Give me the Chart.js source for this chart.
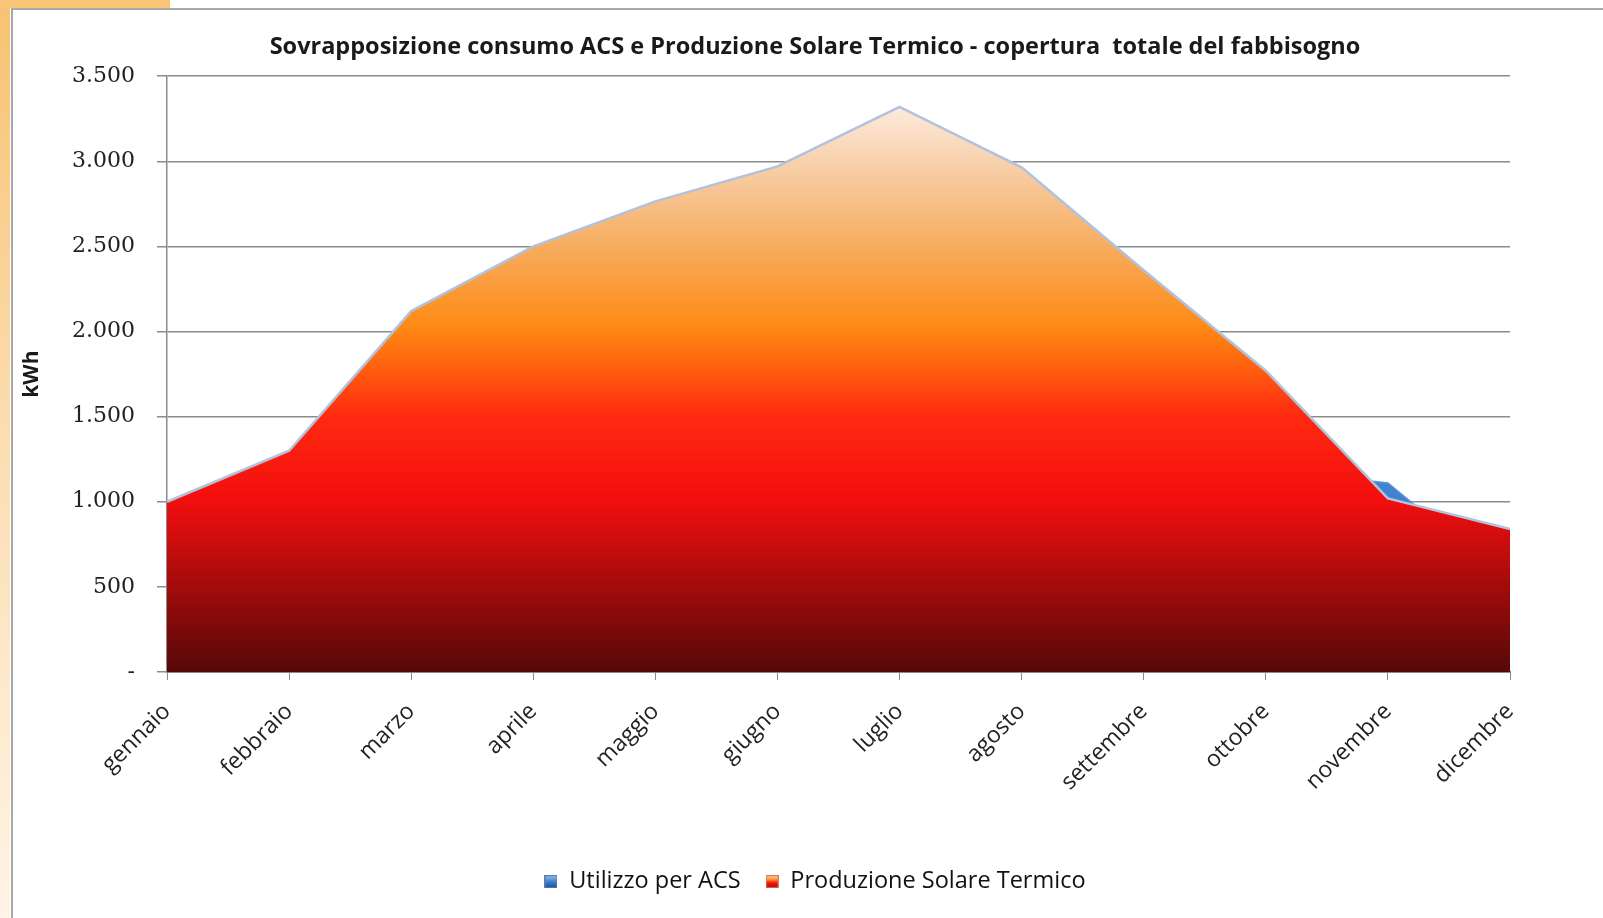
<!DOCTYPE html>
<html>
<head>
<meta charset="utf-8">
<script src="https://cdn.jsdelivr.net/npm/chart.js@4.4.1/dist/chart.umd.min.js"></script>
<style>
  html, body { margin: 0; padding: 0; background: #fff; }
  #wrap { position: relative; width: 1603px; height: 918px; overflow: hidden; }
  #strip { position: absolute; left: 0; top: 0; width: 10px; height: 918px;
    background: linear-gradient(#f8c271, #fbdcae 45%, #fff4e6); }
  #corner { position: absolute; left: 0; top: 0; width: 170px; height: 8px; background: #f9c576; }
  #box { position: absolute; left: 11px; top: 8px; width: 1600px; height: 920px;
    border-top: 2px solid #a8a8a8; border-left: 2px solid #a8a8a8; background: #fff; }
  #myChart { position: absolute; left: 0; top: 0; }
</style>
</head>
<body>
<div id="wrap">
  <div id="strip"></div>
  <div id="corner"></div>
  <div id="box"></div>
  <canvas id="myChart" width="1603" height="918"></canvas>
</div>
<script>
const months = ['gennaio', 'febbraio', 'marzo', 'aprile', 'maggio', 'giugno',
  'luglio', 'agosto', 'settembre', 'ottobre', 'novembre', 'dicembre'];
// ACS is hidden behind the solar area except around novembre
const acsValues = [950, 1000, 1050, 1050, 1100, 1100, 1150, 1150, 1150, 1190, 1110, 520];
const solarValues = [1000, 1300, 2120, 2500, 2765, 2970, 3320, 2965, 2360, 1770, 1020, 840];
const yTicks = [0, 500, 1000, 1500, 2000, 2500, 3000, 3500];

const sansFont = '"Open Sans", Lato, sans-serif';

function solarGradient(context) {
  const area = context.chart.chartArea;
  if (!area) return '#ff2010';
  const g = context.chart.ctx.createLinearGradient(0, area.bottom, 0, area.top);
  g.addColorStop(0, '#560808');
  g.addColorStop(0.14, '#a00b0b');
  g.addColorStop(0.29, '#f40e0e');
  g.addColorStop(0.43, '#ff2a10');
  g.addColorStop(0.52, '#ff6610');
  g.addColorStop(0.58, '#ff8a14');
  g.addColorStop(0.72, '#f6ae62');
  g.addColorStop(0.86, '#f8d2ae');
  g.addColorStop(0.95, '#fcebdc');
  g.addColorStop(1, '#fff8f2');
  return g;
}

function acsGradient(context) {
  const area = context.chart.chartArea;
  if (!area) return '#4a88d6';
  const g = context.chart.ctx.createLinearGradient(0, area.bottom, 0, area.top);
  g.addColorStop(0, '#1d4f9a');
  g.addColorStop(0.3, '#3f82d2');
  g.addColorStop(0.6, '#7fb0e8');
  g.addColorStop(1, '#c9def5');
  return g;
}

// small icons for the legend
function legendIcon(stops, edge) {
  const c = document.createElement('canvas');
  c.width = 13; c.height = 13;
  const x = c.getContext('2d');
  const g = x.createLinearGradient(0, 0, 0, 13);
  stops.forEach(function(s) { g.addColorStop(s[0], s[1]); });
  x.fillStyle = g;
  x.fillRect(0, 0, 13, 13);
  x.strokeStyle = edge;
  x.lineWidth = 1;
  x.strokeRect(0.5, 0.5, 12, 12);
  return c;
}

const acsIcon = legendIcon([[0, '#9cc4ee'], [0.5, '#3f7fcc'], [1, '#1f4e92']], '#5b7fb0');
const solarIcon = legendIcon([[0, '#fbe0c0'], [0.35, '#ff8a20'], [0.6, '#f41010'], [1, '#b01010']], '#d08060');

const ctx = document.getElementById('myChart').getContext('2d');

new Chart(ctx, {
  type: 'line',
  data: {
    labels: months,
    datasets: [{
      label: 'Utilizzo per ACS',
      data: acsValues,
      fill: 'origin',
      backgroundColor: acsGradient,
      borderColor: '#5d8fd0',
      borderWidth: 1.5,
      pointRadius: 0,
      pointStyle: acsIcon,
      tension: 0,
      order: 1
    }, {
      label: 'Produzione Solare Termico',
      data: solarValues,
      fill: 'origin',
      backgroundColor: solarGradient,
      borderColor: '#b2c2de',
      borderWidth: 2.5,
      pointRadius: 0,
      pointStyle: solarIcon,
      tension: 0,
      order: 0
    }]
  },
  options: {
    responsive: false,
    animation: false,
    layout: { padding: { left: 27, right: 0, top: 0, bottom: 14.5 } },
    plugins: {
      tooltip: { enabled: false },
      title: {
        display: true,
        text: 'Sovrapposizione consumo ACS e Produzione Solare Termico - copertura  totale del fabbisogno',
        color: '#1a1a1a',
        font: { family: sansFont, size: 23.5, weight: 'bold', lineHeight: 1.2 },
        padding: { top: 33, bottom: 15 }
      },
      legend: {
        position: 'bottom',
        labels: {
          usePointStyle: true,
          boxWidth: 13,
          boxHeight: 13,
          padding: 25,
          color: '#111',
          font: { family: sansFont, size: 23.5 },
          sort: function(a, b) { return a.datasetIndex - b.datasetIndex; }
        }
      }
    },
    scales: {
      x: {
        grid: { drawOnChartArea: false, drawTicks: true, tickLength: 8, color: '#8a8a8a' },
        border: { color: '#8a8a8a', width: 2 },
        ticks: {
          autoSkip: false,
          minRotation: 45,
          maxRotation: 45,
          padding: 18,
          color: '#222',
          font: { family: sansFont, size: 23 }
        },
        afterFit: function(scale) { scale.height = 173; }
      },
      y: {
        min: 0,
        max: 3500,
        afterBuildTicks: function(scale) {
          scale.ticks = yTicks.map(function(v) { return { value: v }; });
        },
        grid: { color: '#8c8c8c', lineWidth: 1.5, tickLength: 10 },
        border: { color: '#8c8c8c', width: 1.5 },
        ticks: {
          padding: 22,
          color: '#222',
          font: { family: '"DejaVu Serif", serif', size: 22 },
          callback: function(v) {
            if (v === 0) return '-';
            return v.toLocaleString('it-IT');
          }
        },
        title: {
          display: true,
          text: 'kWh',
          color: '#1a1a1a',
          font: { family: sansFont, size: 21, weight: 'bold' },
          padding: { top: -8, bottom: 0 }
        },
        afterFit: function(scale) { scale.width = 140; }
      },
      // empty axis on the right, keeps the white margin after the plot
      yRight: {
        position: 'right',
        grid: { display: false },
        border: { display: false },
        ticks: { display: false },
        afterFit: function(scale) { scale.width = 93; }
      }
    }
  }
});
</script>
</body>
</html>
